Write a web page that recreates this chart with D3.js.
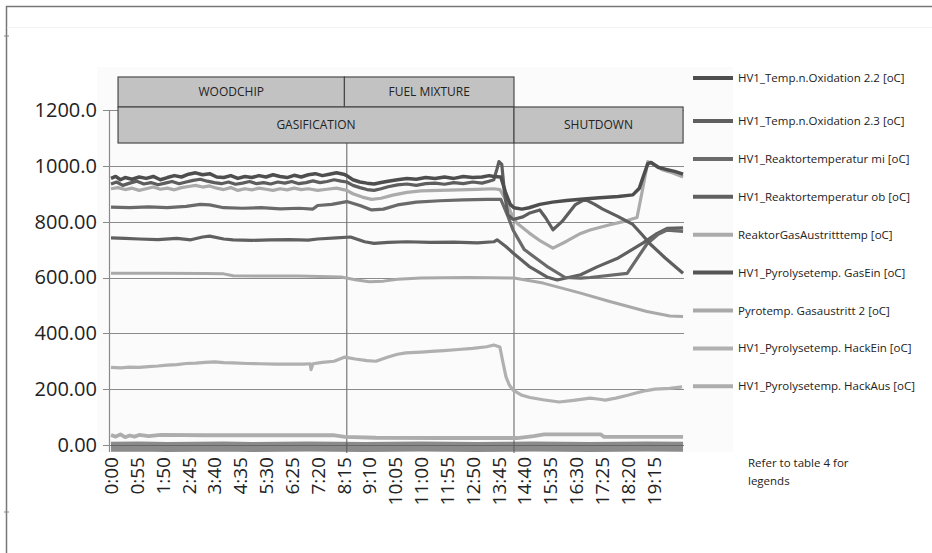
<!DOCTYPE html>
<html><head><meta charset="utf-8">
<script src="https://cdn.jsdelivr.net/npm/d3@7"></script>
<style>
body{margin:0;background:#fff}
svg{display:block}
text{font-family:"Open Sans",sans-serif;fill:#222}
</style>
</head><body>
<svg id="chart" width="932" height="553"></svg>
<script>
// ---------- DATA (minutes since start, temperature in °C) ----------
const seriesNames = [
  "HV1_Temp.n.Oxidation 2.2 [oC]",
  "HV1_Temp.n.Oxidation 2.3 [oC]",
  "HV1_Reaktortemperatur mi [oC]",
  "HV1_Reaktortemperatur ob [oC]",
  "ReaktorGasAustritttemp [oC]",
  "HV1_Pyrolysetemp. GasEin [oC]",
  "Pyrotemp. Gasaustritt 2 [oC]",
  "HV1_Pyrolysetemp. HackEin [oC]",
  "HV1_Pyrolysetemp. HackAus [oC]"
];

const oxid22 = [[0,955],[10,962],[20,950],[30,958],[45,952],[60,960],[75,955],[90,962],[105,950],[120,958],[135,965],[150,960],[165,970],[180,975],[195,968],[210,972],[225,960],[240,958],[255,965],[270,955],[285,962],[300,958],[315,965],[330,960],[345,968],[360,962],[375,958],[390,966],[405,960],[420,968],[435,972],[450,965],[465,970],[480,975],[495,970],[502,965],[515,950],[530,942],[545,938],[560,935],[575,940],[590,945],[610,950],[630,955],[650,952],[670,958],[690,955],[710,960],[730,955],[750,962],[770,958],[790,960],[805,965],[815,962],[830,960],[840,905],[850,862],[858,850],[875,845],[890,850],[913,862],[940,870],[970,876],[1000,880],[1040,886],[1080,890],[1111,896],[1125,920],[1135,970],[1143,1008],[1150,1012],[1165,995],[1180,988],[1200,980],[1218,970]];
const oxid23 = [[0,935],[12,942],[25,930],[40,938],[55,945],[70,935],[85,940],[100,932],[115,938],[130,944],[145,936],[160,942],[175,948],[190,952],[205,945],[220,940],[235,936],[250,942],[265,934],[280,938],[295,944],[310,936],[325,940],[340,935],[355,942],[370,938],[385,944],[400,936],[415,940],[430,946],[445,940],[460,944],[475,950],[490,945],[502,942],[515,930],[530,922],[545,915],[560,912],[575,918],[590,925],[610,932],[630,935],[650,930],[670,936],[690,938],[710,934],[730,940],[750,936],[770,942],[790,938],[805,945],[815,950],[822,990],[826,1015],[832,1005],[838,900],[845,825],[856,808],[877,817],[890,830],[913,842],[925,815],[941,771],[960,800],[988,860],[1009,880],[1030,862],[1047,845],[1080,818],[1111,790],[1130,755],[1148,720],[1180,670],[1211,625],[1218,615]];
const reaktMi = [[0,852],[40,850],[80,853],[120,850],[160,855],[190,862],[210,860],[240,850],[280,848],[320,850],[360,846],[400,848],[430,845],[440,858],[470,862],[502,872],[530,858],[555,842],[580,845],[610,860],[650,870],[700,875],[750,878],[800,880],[830,880],[845,820],[856,770],[880,700],[928,640],[967,600],[1000,598],[1020,600],[1099,615],[1141,720],[1165,755],[1184,770],[1218,765]];
const reaktOb = [[0,742],[30,740],[60,738],[100,736],[140,740],[170,735],[195,745],[210,748],[240,738],[260,735],[300,733],[340,735],[380,736],[420,734],[440,738],[480,742],[510,745],[540,728],[560,722],[590,726],[630,728],[680,726],[730,727],[780,724],[815,728],[822,735],[840,712],[856,688],[890,640],[928,602],[950,591],[1000,610],[1035,638],[1080,670],[1133,724],[1160,755],[1184,776],[1218,778]];
const gasAustritt = [[0,918],[15,922],[30,915],[45,920],[60,912],[75,918],[90,924],[105,916],[120,920],[135,914],[150,922],[165,926],[180,930],[195,924],[210,928],[225,920],[240,915],[255,922],[270,912],[285,918],[300,914],[315,920],[330,916],[345,912],[360,918],[375,914],[390,920],[405,915],[420,918],[440,912],[460,916],[480,920],[502,912],[515,900],[535,888],[555,880],[575,884],[600,895],[630,905],[660,910],[700,912],[740,914],[780,916],[815,918],[828,915],[840,880],[852,830],[864,795],[890,760],[915,730],[941,705],[970,730],[1000,758],[1020,770],[1060,788],[1090,800],[1120,815],[1130,900],[1143,1015],[1155,1005],[1175,985],[1195,975],[1218,960]];
const pyroGasEin = [[0,-6],[60,-5],[120,-7],[180,-6],[240,-5],[300,-7],[360,-6],[420,-5],[480,-6],[540,-7],[600,-6],[660,-5],[720,-6],[780,-7],[840,-6],[900,-5],[960,-6],[1020,-7],[1080,-6],[1140,-5],[1218,-6]];
const pyroGasaustritt2 = [[0,615],[100,615],[200,614],[240,613],[260,606],[400,605],[490,602],[520,592],[550,585],[580,587],[610,594],[660,598],[760,600],[858,598],[920,580],[998,545],[1060,515],[1141,478],[1190,462],[1218,460]];
const hackEin = [[0,278],[20,276],[40,279],[60,278],[80,281],[100,283],[120,286],[140,288],[160,292],[180,293],[200,296],[221,298],[240,295],[260,294],[290,292],[317,291],[350,290],[380,290],[410,290],[424,291],[426,270],[430,291],[450,296],[475,300],[498,315],[520,308],[545,302],[564,300],[590,315],[610,325],[628,330],[660,333],[690,336],[709,338],[740,342],[770,346],[800,352],[815,358],[828,351],[834,300],[841,244],[848,215],[856,197],[875,178],[892,170],[920,162],[954,154],[985,160],[1020,168],[1040,164],[1052,161],[1075,168],[1100,178],[1118,186],[1140,195],[1158,200],[1190,203],[1216,208]];
const hackAus = [[0,36],[10,30],[20,38],[30,28],[40,34],[50,30],[60,36],[80,32],[106,36],[200,35],[300,35],[420,35],[473,35],[498,29],[564,26],[700,25],[865,25],[900,32],[922,38],[1043,38],[1050,29],[1218,29]];

const seriesData = [oxid22, oxid23, reaktMi, reaktOb, gasAustritt, pyroGasEin, pyroGasaustritt2, hackEin, hackAus];

const yTickValues = [0, 200, 400, 600, 800, 1000, 1200];
const yTickLabels = ["0.00", "200.00", "400.00", "600.00", "800.00", "1000.0", "1200.0"];
const xTickLabels = ["0:00","0:55","1:50","2:45","3:40","4:35","5:30","6:25","7:20","8:15","9:10","10:05","11:00","11:55","12:50","13:45","14:40","15:35","16:30","17:25","18:20","19:15"];

// phases (minutes)
const phaseRow1 = [{label:"WOODCHIP", start:15, end:497}, {label:"FUEL MIXTURE", start:497, end:858}];
const phaseRow2 = [{label:"GASIFICATION", start:15, end:858}, {label:"SHUTDOWN", start:858, end:1218}];
const phaseDividers = [502, 858];

// ---------- STYLES ----------
const seriesColors = ["#4e4e4e","#5e5e5e","#6a6a6a","#606060","#ababab","#555555","#a9a9a9","#b0b0b0","#adadad"];
const seriesWidths = [3.5, 3.2, 3.2, 3.2, 3.2, 10, 3, 3.2, 3.8];
const seriesOpacity = [1,1,1,1,1,0.68,1,1,1];

// ---------- CHART ----------
const svg = d3.select("#chart");
const x = d3.scaleLinear().domain([0, 1220]).range([111, 684]);
const y = d3.scaleLinear().domain([0, 1200]).range([445, 110]);

// faint plot background
svg.append("rect").attr("x", 97).attr("y", 67).attr("width", 636).attr("height", 385).attr("fill", "#fbfbfb");

// outer frame
svg.append("line").attr("x1", 6.5).attr("x2", 6.5).attr("y1", 6).attr("y2", 553).attr("stroke", "#777").attr("stroke-width", 1.5);
svg.append("line").attr("x1", 6).attr("x2", 932).attr("y1", 6.5).attr("y2", 6.5).attr("stroke", "#777").attr("stroke-width", 1.5);
svg.append("line").attr("x1", 7).attr("x2", 932).attr("y1", 27.5).attr("y2", 27.5).attr("stroke", "#f2f2f2").attr("stroke-width", 1);
[36, 512].forEach(yy => svg.append("line").attr("x1", 4).attr("x2", 9).attr("y1", yy).attr("y2", yy).attr("stroke", "#888").attr("stroke-width", 1));

// gridlines
svg.append("g").selectAll("line").data(yTickValues).join("line")
  .attr("x1", 103).attr("x2", 684)
  .attr("y1", d => Math.round(y(d)) + 0.5).attr("y2", d => Math.round(y(d)) + 0.5)
  .attr("stroke", "#8a8a8a").attr("stroke-width", 1.2);

// y axis line
svg.append("line").attr("x1", 109.5).attr("x2", 109.5).attr("y1", y(1200)).attr("y2", 452).attr("stroke", "#8a8a8a").attr("stroke-width", 1.2);

// phase divider lines
svg.append("g").selectAll("line").data(phaseDividers).join("line")
  .attr("x1", d => x(d)).attr("x2", d => x(d))
  .attr("y1", 143).attr("y2", 453)
  .attr("stroke", "#777").attr("stroke-width", 1.2);

// series lines
const line = d3.line().x(d => x(d[0])).y(d => y(d[1]));
const drawOrder = [5, 8, 7, 6, 3, 2, 4, 1, 0];
svg.append("g").selectAll("path").data(drawOrder).join("path")
  .attr("d", i => line(seriesData[i]))
  .attr("fill", "none")
  .attr("stroke", i => seriesColors[i])
  .attr("stroke-width", i => seriesWidths[i])
  .attr("stroke-opacity", i => seriesOpacity[i])
  .attr("stroke-linejoin", "round");

// phase boxes
function drawRow(data, y0, h) {
  const g = svg.append("g");
  g.selectAll("rect").data(data).join("rect")
    .attr("x", d => x(d.start)).attr("y", y0)
    .attr("width", d => x(d.end) - x(d.start)).attr("height", h)
    .attr("fill", "#c2c2c2").attr("stroke", "#4a4a4a").attr("stroke-width", 1.2);
  g.selectAll("text").data(data).join("text")
    .attr("x", d => (x(d.start) + x(d.end)) / 2).attr("y", y0 + h / 2)
    .attr("dy", "0.35em").attr("text-anchor", "middle")
    .style("font-size", "12px").text(d => d.label);
}
drawRow(phaseRow1, 77, 30);
drawRow(phaseRow2, 107, 36);

// y axis labels
const yAxis = d3.axisLeft(y).tickValues(yTickValues)
  .tickFormat((d, i) => yTickLabels[i]).tickSize(0).tickPadding(12);
const gy = svg.append("g").attr("transform", "translate(109,0)").call(yAxis);
gy.select(".domain").remove();
gy.selectAll("text").style("font-size", "20px").style("font-family", "'Open Sans', sans-serif").attr("fill", "#222");

// x axis labels
const xTickMinutes = xTickLabels.map(s => { const p = s.split(":"); return +p[0] * 60 + +p[1]; });
const xAxis = d3.axisBottom(x).tickValues(xTickMinutes)
  .tickFormat((d, i) => xTickLabels[i]).tickSize(0);
const gx = svg.append("g").attr("transform", "translate(0,452)").call(xAxis);
gx.select(".domain").remove();
gx.selectAll("text")
  .attr("transform", "rotate(-90)")
  .attr("x", -5).attr("y", 0).attr("dy", "0.35em")
  .style("text-anchor", "end")
  .style("font-size", "19px").style("font-family", "'Open Sans', sans-serif").attr("fill", "#222");

// legend
const legend = svg.append("g");
const legendY = i => i === 0 ? 78 : 121 + (i - 1) * 37.9;
const items = legend.selectAll("g").data(seriesNames).join("g")
  .attr("transform", (d, i) => `translate(0,${legendY(i)})`);
items.append("line").attr("x1", 693).attr("x2", 733).attr("y1", 0).attr("y2", 0)
  .attr("stroke", (d, i) => seriesColors[i]).attr("stroke-width", 4);
items.append("text").attr("x", 738).attr("y", 0).attr("dy", "0.35em")
  .style("font-size", "11.5px").text(d => d);

svg.append("text").attr("x", 748).attr("y", 467).style("font-size", "11.5px").text("Refer to table 4 for");
svg.append("text").attr("x", 748).attr("y", 485).style("font-size", "11.5px").text("legends");
</script>
</body></html>
